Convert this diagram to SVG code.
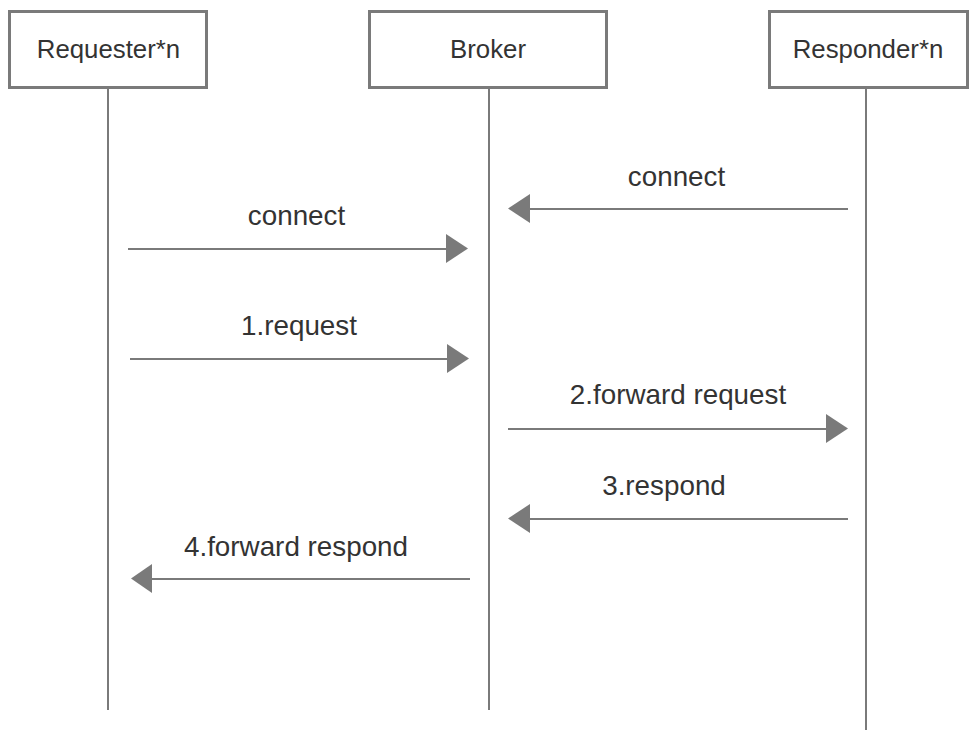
<svg xmlns="http://www.w3.org/2000/svg" width="976" height="744" viewBox="0 0 976 744">
<style>
.box{fill:#fff;stroke:#7a7a7a;stroke-width:3}
.life{stroke:#7a7a7a;stroke-width:2;fill:none}
.msg{stroke:#7a7a7a;stroke-width:2;fill:none}
.head{fill:#7a7a7a}
.t{font-family:"Liberation Sans",Arial,sans-serif;fill:#333;text-anchor:middle}
.bt{font-size:25.8px}
.lt{font-size:27.8px}
</style>
<rect width="976" height="744" fill="#fff"/>
<g id="requester">
<rect class="box" x="9.5" y="11.5" width="197" height="76"/>
<text class="t bt" x="108.5" y="58">Requester*n</text>
</g>
<g id="broker">
<rect class="box" x="369.5" y="11.5" width="237" height="76"/>
<text class="t bt" x="488" y="58">Broker</text>
</g>
<g id="responder">
<rect class="box" x="769.5" y="11.5" width="198" height="76"/>
<text class="t bt" x="868" y="58">Responder*n</text>
</g>
<g id="connectors">
<line class="life" x1="108" y1="89" x2="108" y2="710"/>
<line class="life" x1="489" y1="89" x2="489" y2="710"/>
<line class="life" x1="866" y1="89" x2="866" y2="730"/>
<line class="msg" x1="848" y1="209" x2="528" y2="209"/>
<polygon class="head" points="508,208.5 530,194 530,223"/>
<line class="msg" x1="128" y1="249" x2="448" y2="249"/>
<polygon class="head" points="468,248.5 446,234 446,263"/>
<line class="msg" x1="130" y1="359" x2="449" y2="359"/>
<polygon class="head" points="469,358.5 447,344 447,373"/>
<line class="msg" x1="508" y1="429" x2="828" y2="429"/>
<polygon class="head" points="848,428.5 826,414 826,443"/>
<line class="msg" x1="848" y1="519" x2="528" y2="519"/>
<polygon class="head" points="508,518.5 530,504 530,533"/>
<line class="msg" x1="470" y1="579" x2="150" y2="579"/>
<polygon class="head" points="131,578.5 152,564 152,593"/>
<text class="t lt" x="676.5" y="186">connect</text>
<text class="t lt" x="296.5" y="225">connect</text>
<text class="t lt" x="299" y="335">1.request</text>
<text class="t lt" x="678" y="404">2.forward request</text>
<text class="t lt" x="664" y="495">3.respond</text>
<text class="t lt" x="296" y="556">4.forward respond</text>
</g>
</svg>
